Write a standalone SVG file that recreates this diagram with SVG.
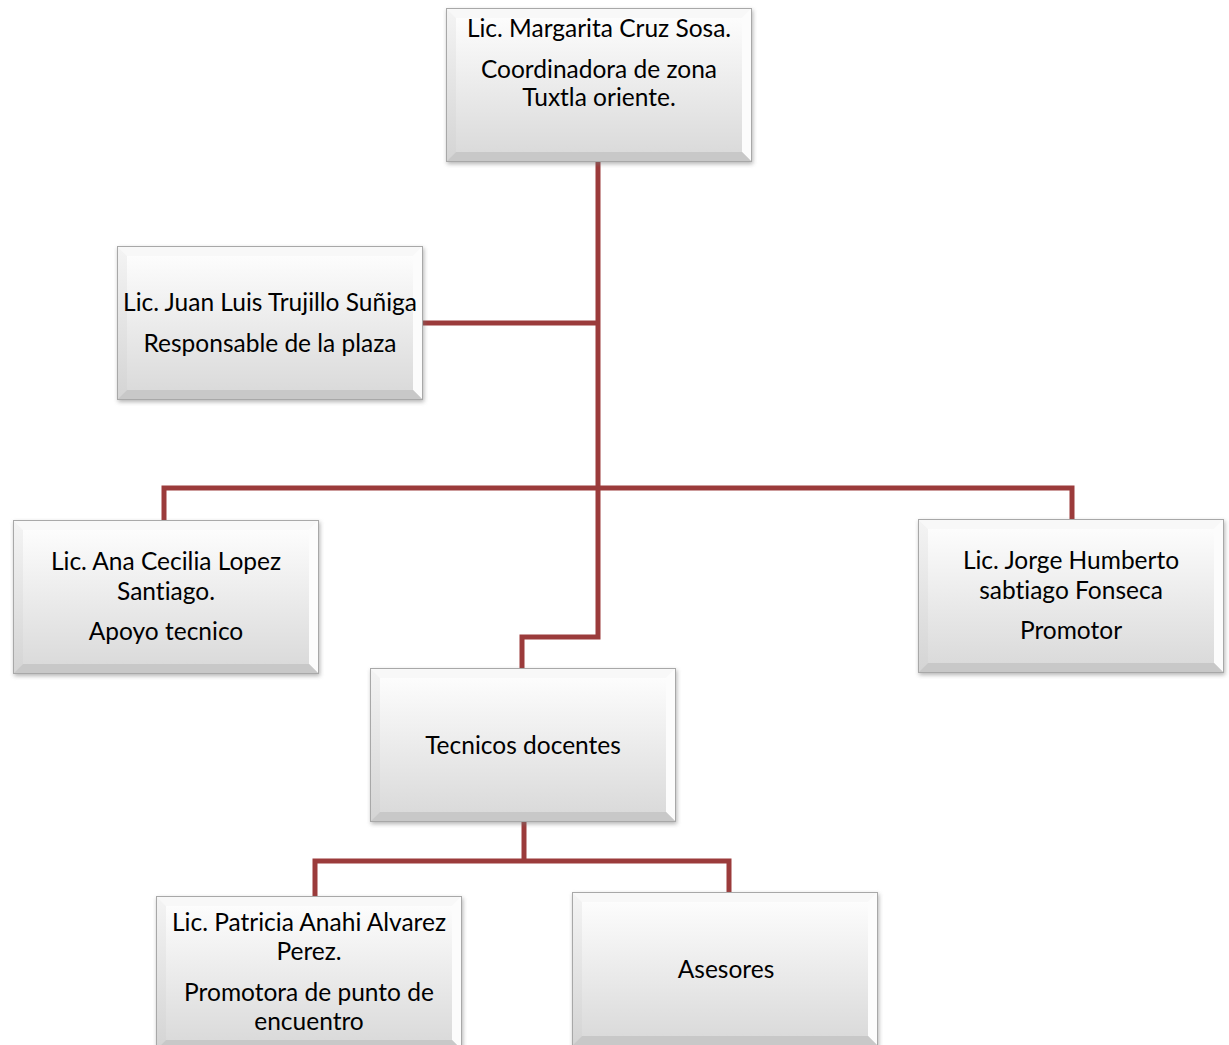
<svg xmlns="http://www.w3.org/2000/svg" xmlns:xlink="http://www.w3.org/1999/xlink" width="1229" height="1045" viewBox="0 0 1229 1045">
<style>
.t{font-family:Lato,"Liberation Sans",sans-serif;font-size:24.5px;fill:#000;text-anchor:middle;font-variant-ligatures:none}
.c{fill:none;stroke:#9b3b3b;stroke-width:5;stroke-linejoin:miter}
</style>
<defs>
<linearGradient id="face" x1="0" y1="0" x2="0" y2="1">
<stop offset="0" stop-color="#ffffff"/>
<stop offset="1" stop-color="#d8d8d8"/>
</linearGradient>
<linearGradient id="lside" x1="0" y1="0" x2="0" y2="1">
<stop offset="0" stop-color="#f4f4f4"/>
<stop offset="1" stop-color="#d4d4d4"/>
</linearGradient>
<filter id="sh" x="-10%" y="-10%" width="120%" height="130%">
<feGaussianBlur stdDeviation="2"/>
</filter>
<g id="box">
<rect x="1" y="2" width="306" height="154" fill="#777" opacity="0.55" filter="url(#sh)"/>
<rect x="0" y="0" width="306" height="154" fill="url(#face)"/>
<polygon points="0,0 306,0 296,10 10,10" fill="#f8f8f8"/>
<polygon points="0,0 10,10 10,144 0,154" fill="url(#lside)"/>
<polygon points="306,0 306,154 296,144 296,10" fill="#fcfcfc"/>
<polygon points="0,154 306,154 296,144 10,144" fill="#c8c8c8"/>
<rect x="0.5" y="0.5" width="305" height="153" fill="none" stroke="#a8a8a8" stroke-width="1"/>
</g>
</defs>
<rect width="1229" height="1045" fill="#fff"/>
<g id="connectors">
<path class="c" d="M598,162 V637 H522 V668"/>
<path class="c" d="M423,323 H598"/>
<path class="c" d="M164,520 V488 H1072 V520"/>
<path class="c" d="M524,822 V861"/>
<path class="c" d="M315,896 V861 H729 V892"/>
</g>
<g id="node-margarita">
<use xlink:href="#box" x="446" y="8"/>
<text class="t" x="599" y="37">Lic. Margarita Cruz Sosa.</text>
<text class="t" x="599" y="78">Coordinadora de zona</text>
<text class="t" x="599" y="106">Tuxtla oriente.</text>
</g>
<g id="node-juan">
<use xlink:href="#box" x="117" y="246"/>
<text class="t" x="270" y="311">Lic. Juan Luis Trujillo Suñiga</text>
<text class="t" x="270" y="352">Responsable de la plaza</text>
</g>
<g id="node-ana">
<use xlink:href="#box" x="13" y="520"/>
<text class="t" x="166" y="570">Lic. Ana Cecilia Lopez</text>
<text class="t" x="166" y="600">Santiago.</text>
<text class="t" x="166" y="640">Apoyo tecnico</text>
</g>
<g id="node-jorge">
<use xlink:href="#box" x="918" y="519"/>
<text class="t" x="1071" y="569">Lic. Jorge Humberto</text>
<text class="t" x="1071" y="599">sabtiago Fonseca</text>
<text class="t" x="1071" y="639">Promotor</text>
</g>
<g id="node-tecnicos">
<use xlink:href="#box" x="370" y="668"/>
<text class="t" x="523" y="754">Tecnicos docentes</text>
</g>
<g id="node-patricia">
<use xlink:href="#box" x="156" y="896"/>
<text class="t" x="309" y="931">Lic. Patricia Anahi Alvarez</text>
<text class="t" x="309" y="960">Perez.</text>
<text class="t" x="309" y="1001">Promotora de punto de</text>
<text class="t" x="309" y="1030">encuentro</text>
</g>
<g id="node-asesores">
<use xlink:href="#box" x="572" y="892"/>
<text class="t" x="726" y="978">Asesores</text>
</g>
</svg>
